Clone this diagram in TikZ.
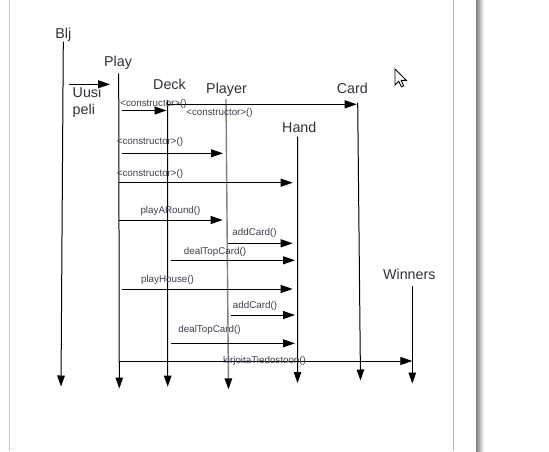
\documentclass[tikz,border=0pt]{standalone}
\usepackage{fontspec}
\setmainfont{Liberation Sans}
\usepackage{tikz}
\usetikzlibrary{arrows.meta}
\usetikzlibrary{calc}
\definecolor{txt}{RGB}{48,48,58}
\definecolor{lbl}{RGB}{62,62,78}
\tikzstyle{head} = [text=txt, inner sep=0pt, anchor=base, font=\fontsize{14.3}{17}\selectfont]
\tikzstyle{msglabel} = [text=lbl, inner sep=0pt, font=\fontsize{9.8}{11}\selectfont]
\tikzstyle{point} = [coordinate]
\tikzstyle{lifeline} = [line width=1pt, -{Triangle[length=11pt,width=7.5pt]}]
\tikzstyle{call} = [line width=1pt, -{Triangle[length=12pt,width=8pt]}]

\begin{document}
\begin{tikzpicture}[x=1pt, y=-1pt]
		% page
		\useasboundingbox (0,0) rectangle (549,451);
		\fill[white] (0,0) rectangle (549,451);
		\draw[black!22, line width=1pt] (9.5,0) -- (9.5,451);
		\draw[black!30, line width=1pt] (453.5,0) -- (453.5,451);
		\shade[left color=black!50, right color=white] (476,0) rectangle (484,451);
		
		% heads
		\node [head] (blj) at (63.3,38.5) {Blj};
		\node [head] (play) at (118,66.9) {Play};
		\node [head] (deck) at (169.5,89.5) {Deck};
		\node [head] (player) at (226.5,93.5) {Player};
		\node [head] (card) at (352.3,93.5) {Card};
		\node [head] (hand) at (299.3,132.2) {Hand};
		\node [head] (winners) at (409.3,279.2) {Winners};
		
		\node [point] (bljTop) at (63.3,41.7) {};
		\node [point] (bljEnd) at (61,386.5) {};
		\node [point] (playTop) at (118.7,73.3) {};
		\node [point] (playEnd) at (119.3,388.5) {};
		\node [point] (deckTop) at (167.5,100) {};
		\node [point] (deckEnd) at (167.7,386.7) {};
		\node [point] (playerTop) at (226,99) {};
		\node [point] (playerEnd) at (228.5,389.3) {};
		\node [point] (cardTop) at (357.7,102.7) {};
		\node [point] (cardEnd) at (360.5,380.5) {};
		\node [point] (handTop) at (297.7,136.7) {};
		\node [point] (handEnd) at (297.5,383) {};
		\node [point] (winnersTop) at (412.3,286) {};
		\node [point] (winnersEnd) at (412.3,383.5) {};
		
		% lifelines
		\draw [lifeline] (bljTop) -- (bljEnd);
		\draw [lifeline] (playTop) -- (playEnd);
		\draw [lifeline] (deckTop) -- (deckEnd);
		\draw [lifeline, black!50, line width=1.4pt, -{Triangle[length=11pt,width=7.5pt,black]}] (playerTop) -- (playerEnd);
		\draw [lifeline] (cardTop) -- (cardEnd);
		\draw [lifeline] (handTop) -- (handEnd);
		\draw [lifeline] (winnersTop) -- (winnersEnd);
		
		% Uusi peli
		\node [point] (uusiStart) at (69.3,84.3) {};
		\node [point] (uusiEnd) at (110,84.3) {};
		\draw [call] (uusiStart) -- (uusiEnd);
		\node [head, anchor=north west, align=left] (uusi) at (72.5,87.2) {Uusi\\peli};
		
		% message rows
		\node [point] (r1) at (0,110.5) {};
		\node [point] (r2) at (0,104.3) {};
		\node [point] (r3) at (0,153.3) {};
		\node [point] (r4) at (0,182.7) {};
		\node [point] (r5) at (0,220) {};
		\node [point] (r6) at (0,243.3) {};
		\node [point] (r7) at (0,260.3) {};
		\node [point] (r8) at (0,289) {};
		\node [point] (r9) at (0,315) {};
		\node [point] (r10) at (0,343.3) {};
		\node [point] (r11) at (0,361) {};
		
		\draw [call, shorten <=3pt, shorten >=1pt] (r1 -| playTop) -- (r1 -| deckTop);
		\draw [call, shorten >=1pt] (r2 -| deckTop) -- (r2 -| cardTop);
		\draw [call, shorten <=3pt, shorten >=3pt] (r3 -| playTop) -- (r3 -| playerTop);
		\draw [call, shorten >=5pt] (r4 -| playTop) -- (r4 -| handTop);
		\draw [call, shorten >=3.3pt] (r5 -| playTop) -- (r5 -| playerTop);
		\draw [call, shorten <=2.3pt, shorten >=5pt] (r6 -| playerTop) -- (r6 -| handTop);
		\draw [call, shorten <=3pt, shorten >=2.7pt] (r7 -| deckTop) -- (r7 -| handTop);
		\draw [call, shorten <=3pt, shorten >=5pt] (r8 -| playTop) -- (r8 -| handTop);
		\draw [call, shorten <=5pt, shorten >=2.7pt] (r9 -| playerTop) -- (r9 -| handTop);
		\draw [call, shorten <=3pt, shorten >=2.7pt] (r10 -| deckTop) -- (r10 -| handTop);
		\draw [call] (r11 -| playTop) -- (r11 -| winnersTop);
		
		% message labels
		\node [msglabel] (m1) at (153.5,104) {<constructor>()};
		\node [msglabel] (m2) at (219.5,113) {<constructor>()};
		\node [msglabel] (m3) at (150,142.3) {<constructor>()};
		\node [msglabel] (m4) at (150,173.7) {<constructor>()};
		\node [msglabel] (m5) at (170.5,211) {playARound()};
		\node [msglabel] (m6) at (254.5,233.3) {addCard()};
		\node [msglabel] (m7) at (215,252) {dealTopCard()};
		\node [msglabel] (m8) at (167.5,280) {playHouse()};
		\node [msglabel] (m9) at (255,306) {addCard()};
		\node [msglabel] (m10) at (209.5,330) {dealTopCard()};
		\node [msglabel] (m11) at (264.5,361) {kirjoitaTiedostoon()};
		
		% mouse pointer
		\draw [black, fill=white, line width=0.9pt, line join=miter]
			(395,69) -- ++(0,16) -- ++(3.8,-3.7) -- ++(2.6,5.5) -- ++(2.3,-1)
			-- ++(-2.5,-5.4) -- ++(5.3,0) -- cycle;
	\end{tikzpicture}
\end{document}
